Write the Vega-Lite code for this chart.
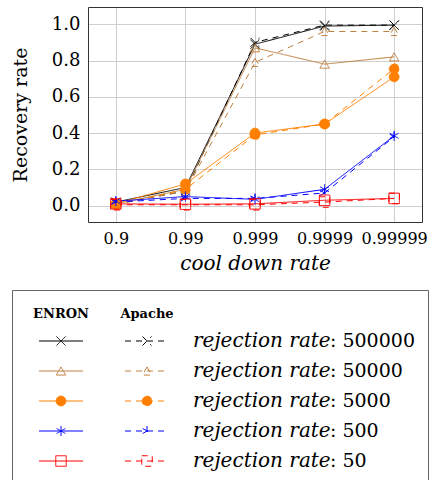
{
  "$schema": "https://vega.github.io/schema/vega-lite/v6.json",
  "padding": {"left": 11, "top": 7, "right": 0, "bottom": 0},
  "spacing": 16,
  "config": {
    "font": "DejaVu Serif",
    "axis": {"labelFont": "DejaVu Serif", "titleFont": "DejaVu Serif", "labelColor": "#000", "titleColor": "#000", "domainColor": "#333", "domainWidth": 1}
  },
  "datasets": {
    "main": [
      {"cd": "0.9", "dataset": "ENRON", "rate": "500000", "value": 0.02},
      {"cd": "0.99", "dataset": "ENRON", "rate": "500000", "value": 0.10},
      {"cd": "0.999", "dataset": "ENRON", "rate": "500000", "value": 0.89},
      {"cd": "0.9999", "dataset": "ENRON", "rate": "500000", "value": 0.99},
      {"cd": "0.99999", "dataset": "ENRON", "rate": "500000", "value": 0.995},
      {"cd": "0.9", "dataset": "Apache", "rate": "500000", "value": 0.01},
      {"cd": "0.99", "dataset": "Apache", "rate": "500000", "value": 0.08},
      {"cd": "0.999", "dataset": "Apache", "rate": "500000", "value": 0.90},
      {"cd": "0.9999", "dataset": "Apache", "rate": "500000", "value": 0.995},
      {"cd": "0.99999", "dataset": "Apache", "rate": "500000", "value": 0.995},
      {"cd": "0.9", "dataset": "ENRON", "rate": "50000", "value": 0.01},
      {"cd": "0.99", "dataset": "ENRON", "rate": "50000", "value": 0.09},
      {"cd": "0.999", "dataset": "ENRON", "rate": "50000", "value": 0.87},
      {"cd": "0.9999", "dataset": "ENRON", "rate": "50000", "value": 0.78},
      {"cd": "0.99999", "dataset": "ENRON", "rate": "50000", "value": 0.82},
      {"cd": "0.9", "dataset": "Apache", "rate": "50000", "value": 0.01},
      {"cd": "0.99", "dataset": "Apache", "rate": "50000", "value": 0.08},
      {"cd": "0.999", "dataset": "Apache", "rate": "50000", "value": 0.79},
      {"cd": "0.9999", "dataset": "Apache", "rate": "50000", "value": 0.96},
      {"cd": "0.99999", "dataset": "Apache", "rate": "50000", "value": 0.96},
      {"cd": "0.9", "dataset": "ENRON", "rate": "5000", "value": 0.01},
      {"cd": "0.99", "dataset": "ENRON", "rate": "5000", "value": 0.12},
      {"cd": "0.999", "dataset": "ENRON", "rate": "5000", "value": 0.40},
      {"cd": "0.9999", "dataset": "ENRON", "rate": "5000", "value": 0.45},
      {"cd": "0.99999", "dataset": "ENRON", "rate": "5000", "value": 0.71},
      {"cd": "0.9", "dataset": "Apache", "rate": "5000", "value": 0.005},
      {"cd": "0.99", "dataset": "Apache", "rate": "5000", "value": 0.09},
      {"cd": "0.999", "dataset": "Apache", "rate": "5000", "value": 0.39},
      {"cd": "0.9999", "dataset": "Apache", "rate": "5000", "value": 0.45},
      {"cd": "0.99999", "dataset": "Apache", "rate": "5000", "value": 0.755},
      {"cd": "0.9", "dataset": "ENRON", "rate": "500", "value": 0.025},
      {"cd": "0.99", "dataset": "ENRON", "rate": "500", "value": 0.05},
      {"cd": "0.999", "dataset": "ENRON", "rate": "500", "value": 0.035},
      {"cd": "0.9999", "dataset": "ENRON", "rate": "500", "value": 0.09},
      {"cd": "0.99999", "dataset": "ENRON", "rate": "500", "value": 0.385},
      {"cd": "0.9", "dataset": "Apache", "rate": "500", "value": 0.02},
      {"cd": "0.99", "dataset": "Apache", "rate": "500", "value": 0.04},
      {"cd": "0.999", "dataset": "Apache", "rate": "500", "value": 0.04},
      {"cd": "0.9999", "dataset": "Apache", "rate": "500", "value": 0.07},
      {"cd": "0.99999", "dataset": "Apache", "rate": "500", "value": 0.38},
      {"cd": "0.9", "dataset": "ENRON", "rate": "50", "value": 0.01},
      {"cd": "0.99", "dataset": "ENRON", "rate": "50", "value": 0.008},
      {"cd": "0.999", "dataset": "ENRON", "rate": "50", "value": 0.01},
      {"cd": "0.9999", "dataset": "ENRON", "rate": "50", "value": 0.03},
      {"cd": "0.99999", "dataset": "ENRON", "rate": "50", "value": 0.04},
      {"cd": "0.9", "dataset": "Apache", "rate": "50", "value": 0.005},
      {"cd": "0.99", "dataset": "Apache", "rate": "50", "value": 0.005},
      {"cd": "0.999", "dataset": "Apache", "rate": "50", "value": 0.005},
      {"cd": "0.9999", "dataset": "Apache", "rate": "50", "value": 0.02},
      {"cd": "0.99999", "dataset": "Apache", "rate": "50", "value": 0.04}
    ],
    "legendRows": [
      {"dataset": "ENRON", "rate": "500000"},
      {"dataset": "Apache", "rate": "500000"},
      {"dataset": "ENRON", "rate": "50000"},
      {"dataset": "Apache", "rate": "50000"},
      {"dataset": "ENRON", "rate": "5000"},
      {"dataset": "Apache", "rate": "5000"},
      {"dataset": "ENRON", "rate": "500"},
      {"dataset": "Apache", "rate": "500"},
      {"dataset": "ENRON", "rate": "50"},
      {"dataset": "Apache", "rate": "50"}
    ],
    "legendLabels": [
      {"rate": "500000", "col": "label"}, {"rate": "50000", "col": "label"}, {"rate": "5000", "col": "label"}, {"rate": "500", "col": "label"}, {"rate": "50", "col": "label"}
    ],
    "headers": [{"dataset": "ENRON", "rate": "header"}, {"dataset": "Apache", "rate": "header"}]
  },
  "vconcat": [
    {
      "width": 410,
      "height": 215,
      "view": {"stroke": null},
      "data": {"name": "main"},
      "resolve": {"axis": {"x": "independent", "y": "independent"}},
      "layer": [
        {
          "mark": {"type": "line", "strokeWidth": 1},
          "encoding": {
            "x": {
              "field": "cd", "type": "ordinal",
              "scale": {"type": "point", "padding": 0.4, "range": [76, 410], "domain": ["0.9", "0.99", "0.999", "0.9999", "0.99999"]},
              "axis": {"title": "cool down rate", "titleFontStyle": "italic", "titleFontWeight": "normal", "titleFontSize": 20, "titlePadding": 7, "labelFontSize": 16, "labelAngle": 0, "labelPadding": 8, "tickSize": 0, "domain": true, "grid": true, "gridColor": "#cfcfcf", "gridWidth": 1}
            },
            "y": {
              "field": "value", "type": "quantitative",
              "scale": {"domain": [-0.09, 1.095], "nice": false, "zero": false},
              "axis": {"title": "Recovery rate", "offset": -76, "titleFontWeight": "normal", "titleFontSize": 19, "titlePadding": 21, "labelFontSize": 18, "labelPadding": 8, "tickSize": 0, "domain": true, "values": [0, 0.2, 0.4, 0.6, 0.8, 1.0], "format": ".1f", "grid": true, "gridColor": "#cfcfcf", "gridWidth": 1}
            },
            "stroke": {"field": "rate", "type": "nominal", "scale": {"domain": ["500000", "50000", "5000", "500", "50"], "range": ["#000000", "#bf8040", "#ff8000", "#0000ff", "#ff0000"]}, "legend": null},
            "strokeDash": {"field": "dataset", "type": "nominal", "scale": {"domain": ["ENRON", "Apache"], "range": [[1, 0], [6, 5]]}, "legend": null}
          }
        },
        {
          "mark": {"type": "point", "strokeWidth": 1, "opacity": 1},
          "encoding": {
            "x": {"field": "cd", "type": "ordinal", "axis": {"orient": "top", "labels": false, "ticks": false, "title": null, "grid": false, "domain": true}},
            "y": {"field": "value", "type": "quantitative", "axis": {"orient": "right", "labels": false, "ticks": false, "title": null, "grid": false, "domain": true}},
            "shape": {"field": "rate", "type": "nominal", "scale": {"domain": ["500000", "50000", "5000", "500", "50"], "range": ["M-1,-1L1,1M-1,1L1,-1", "triangle-up", "circle", "M0,-1L0,1M-0.866,-0.5L0.866,0.5M-0.866,0.5L0.866,-0.5", "square"]}, "legend": null},
            "stroke": {"field": "rate", "type": "nominal", "legend": null},
            "fill": {"field": "rate", "type": "nominal", "scale": {"domain": ["500000", "50000", "5000", "500", "50"], "range": ["transparent", "transparent", "#ff8000", "transparent", "transparent"]}, "legend": null},
            "size": {"field": "rate", "type": "nominal", "scale": {"domain": ["500000", "50000", "5000", "500", "50"], "range": [81, 110, 130, 100, 110]}, "legend": null},
            "strokeDash": {"field": "dataset", "type": "nominal", "legend": null}
          }
        }
      ]
    },
    {
      "width": 416,
      "height": 192,
      "view": {"stroke": "#666", "strokeWidth": 1},
      "layer": [
        {
          "data": {"name": "legendRows"},
          "mark": {"type": "rule", "strokeWidth": 1, "xOffset": -22, "x2Offset": 22},
          "encoding": {
            "x": {"field": "dataset", "type": "nominal", "scale": {"type": "band", "domain": ["ENRON", "Apache", "label"], "range": [6, 264], "paddingInner": 0, "paddingOuter": 0}, "axis": null},
            "x2": {"field": "dataset"},
            "y": {"field": "rate", "type": "nominal", "scale": {"type": "point", "domain": ["header", "500000", "50000", "5000", "500", "50"], "padding": 0.7}, "axis": null},
            "stroke": {"field": "rate", "type": "nominal", "legend": null},
            "strokeDash": {"field": "dataset", "type": "nominal", "legend": null}
          }
        },
        {
          "data": {"name": "legendRows"},
          "mark": {"type": "point", "strokeWidth": 1, "opacity": 1},
          "encoding": {
            "x": {"field": "dataset", "type": "nominal", "axis": null},
            "y": {"field": "rate", "type": "nominal", "axis": null},
            "shape": {"field": "rate", "type": "nominal", "legend": null},
            "stroke": {"field": "rate", "type": "nominal", "legend": null},
            "fill": {"field": "rate", "type": "nominal", "legend": null},
            "size": {"field": "rate", "type": "nominal", "legend": null},
            "strokeDash": {"field": "dataset", "type": "nominal", "legend": null}
          }
        },
        {
          "data": {"name": "legendLabels"},
          "mark": {"type": "text", "align": "left", "baseline": "middle", "fontStyle": "italic", "fontSize": 20, "text": "rejection rate", "dx": -40},
          "encoding": {
            "x": {"field": "col", "type": "nominal", "axis": null},
            "y": {"field": "rate", "type": "nominal", "axis": null}
          }
        },
        {
          "data": {"name": "legendLabels"},
          "transform": [{"calculate": "': ' + datum.rate", "as": "lbl"}],
          "mark": {"type": "text", "align": "left", "baseline": "middle", "fontSize": 19, "dx": 97},
          "encoding": {
            "x": {"field": "col", "type": "nominal", "axis": null},
            "y": {"field": "rate", "type": "nominal", "axis": null},
            "text": {"field": "lbl", "type": "nominal"}
          }
        },
        {
          "data": {"name": "headers"},
          "mark": {"type": "text", "align": "center", "baseline": "middle", "fontWeight": "bold", "fontSize": 13, "dy": 3},
          "encoding": {
            "x": {"field": "dataset", "type": "nominal", "axis": null},
            "y": {"field": "rate", "type": "nominal", "axis": null},
            "text": {"field": "dataset", "type": "nominal"}
          }
        }
      ]
    }
  ]
}
